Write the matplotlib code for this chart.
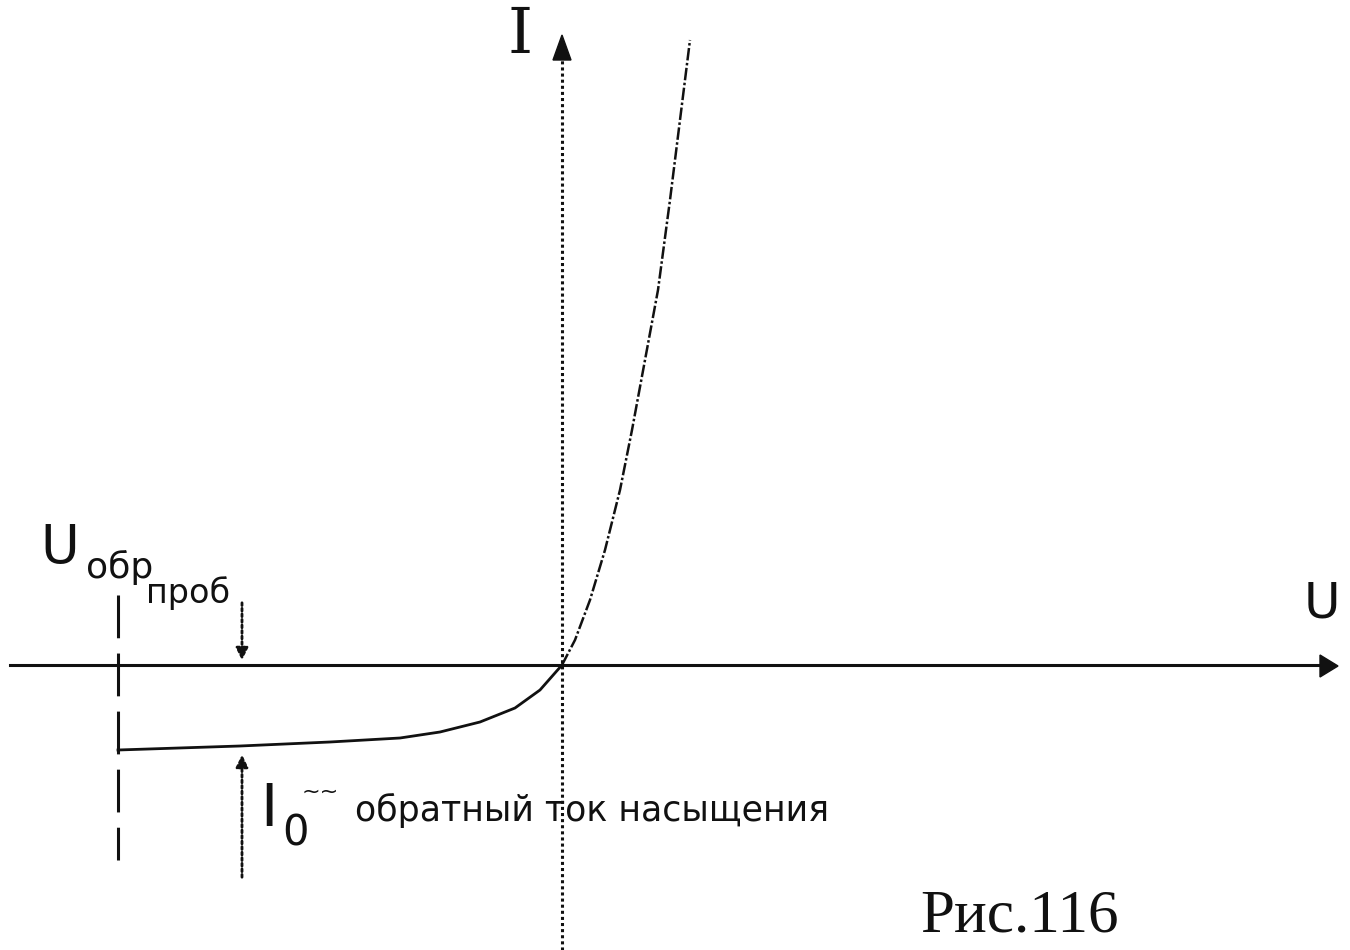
import matplotlib.pyplot as plt
from matplotlib.patches import Polygon

# Diode I-V curve (arbitrary units, origin at the axes crossing)
forward_u = [0.0, 0.13, 0.28, 0.43, 0.58, 0.70, 0.83, 0.96, 1.08, 1.18, 1.28]
forward_i = [0.0, 0.25, 0.65, 1.15, 1.75, 2.35, 3.05, 3.75, 4.65, 5.45, 6.25]

reverse_u = [0.0, -0.22, -0.47, -0.82, -1.22, -1.62, -2.32, -3.22, -4.44]
reverse_i = [0.0, -0.25, -0.43, -0.57, -0.67, -0.73, -0.77, -0.81, -0.85]

u_breakdown = -4.44   # U обр проб
i0_marker_u = -3.20   # where the I0 dimension arrows sit
i0_level = -0.85

x_limits = (-5.62, 7.88)
y_limits = (-2.85, 6.65)

ink = '#111111'
dots = (0, (1, 1))
label_font = ['DejaVu Sans']

fig = plt.figure(figsize=(13.5, 9.5), dpi=100)
ax = fig.add_axes([0, 0, 1, 1])
ax.set_xlim(*x_limits)
ax.set_ylim(*y_limits)
ax.axis('off')

# axes
ax.plot([-5.52, 7.6], [0, 0], color=ink, lw=2.2)
ax.add_patch(Polygon([[7.58, 0.1], [7.58, -0.12], [7.76, -0.01]], closed=True, color=ink))
ax.plot([0, 0], [-2.85, 6.05], color=ink, lw=2.2, linestyle=dots)
ax.add_patch(Polygon([[-0.09, 6.05], [0.09, 6.05], [0.0, 6.3]], closed=True, color=ink))

# characteristic
ax.plot(forward_u, forward_i, color=ink, lw=1.8, linestyle=(0, (5, 1, 1, 1)))
ax.plot(reverse_u, reverse_i, color=ink, lw=2.0)

# breakdown voltage marker (broken vertical)
ax.plot([u_breakdown, u_breakdown], [0.7, -1.95], color=ink, lw=2.2,
        linestyle=(0, (14, 5)))

# I0 dimension arrows
ax.annotate('', xy=(i0_marker_u, 0.02), xytext=(i0_marker_u, 0.65),
            arrowprops=dict(arrowstyle='-|>', color=ink, lw=2.0, linestyle=dots,
                            mutation_scale=18))
ax.annotate('', xy=(i0_marker_u, i0_level - 0.02), xytext=(i0_marker_u, -2.15),
            arrowprops=dict(arrowstyle='-|>', color=ink, lw=2.0, linestyle=dots,
                            mutation_scale=18))

# labels
ax.text(-0.42, 6.3, 'I', family='DejaVu Serif', fontsize=46, color=ink,
        ha='center', va='center', fontweight='light')
ax.text(7.42, 0.62, 'U', family=label_font, fontsize=36,
        color=ink, ha='left', va='center')

ax.text(-5.22, 1.17, 'U', family=label_font, fontsize=38,
        color=ink, ha='left', va='center')
ax.text(-4.76, 0.98, 'обр', family=label_font, fontsize=26,
        color=ink, ha='left', va='center')
ax.text(-4.16, 0.72, 'проб', family=label_font, fontsize=24,
        color=ink, ha='left', va='center')

ax.text(-3.02, -1.45, 'I', family=label_font, fontsize=42,
        color=ink, ha='left', va='center')
ax.text(-2.80, -1.68, '0', family=label_font, fontsize=30,
        color=ink, ha='left', va='center')
ax.text(-2.60, -1.27, '~~', family=label_font, fontsize=16,
        color=ink, ha='left', va='center')
ax.text(-2.07, -1.45, 'обратный ток насыщения', family=label_font, fontsize=25,
        color=ink, ha='left', va='center')

ax.text(3.58, -2.52, 'Рис.116', family='Liberation Serif', fontsize=44,
        color=ink, ha='left', va='center')

fig.savefig('out.png', dpi=100, facecolor='white')
